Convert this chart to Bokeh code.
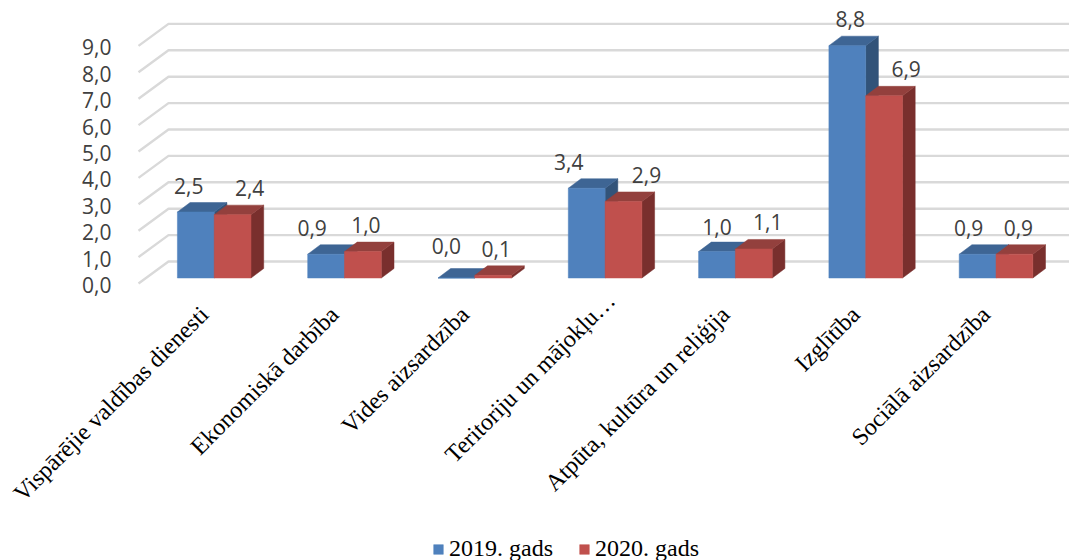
import math
from bokeh.plotting import figure
from bokeh.models import (ColumnDataSource, FixedTicker, Legend, LegendItem, LinearAxis, Range1d)
from bokeh.core.properties import value
from bokeh.embed import file_html
from bokeh.resources import INLINE

# ---- data ----
categories = ["Vispārējie valdības dienesti", "Ekonomiskā darbība", "Vides aizsardzība",
              "Teritoriju un mājokļu…", "Atpūta, kultūra un reliģija", "Izglītība",
              "Sociālā aizsardzība"]
series_2019 = [2.5, 0.9, 0.0, 3.4, 1.0, 8.8, 0.9]
series_2020 = [2.4, 1.0, 0.1, 2.9, 1.1, 6.9, 0.9]
labels_2019 = ["2,5", "0,9", "0,0", "3,4", "1,0", "8,8", "0,9"]
labels_2020 = ["2,4", "1,0", "0,1", "2,9", "1,1", "6,9", "0,9"]
y_ticks = [0, 1, 2, 3, 4, 5, 6, 7, 8, 9]
y_tick_labels = ["0,0", "1,0", "2,0", "3,0", "4,0", "5,0", "6,0", "7,0", "8,0", "9,0"]
series_names = ["2019. gads", "2020. gads"]

# ---- layout (pixels) ----
PX_X = 130.3          # one category
PX_Y = 26.4           # one value unit
W, H = 1069, 560
YAXIS_PAGE = 118
ZERO_PAGE = 283
BAR_W = 36.8
BAR_LIFT = 5.5        # bar front above the front plane
DEPTH_X, DEPTH_Y = 12.7, 9.5
WALL_X, WALL_Y = 30.0, 22.0
WALL_LEFT_PAGE, WALL_RIGHT_PAGE = 138.0, 1060.0
CENTER0_PAGE = 213.7
label_shift = [10, 10, 10, -6, 10, 10, 10]
RAISED_LABEL = 3      # the truncated label sits higher than the rest
RAISED_BY = 14
YLABEL_SHIFT = 1.5
nudge_2019 = [-7, -14, -10, -18, 0, 3, -9]
nudge_2020 = [17, 3, 3, 23, 14, 22, 4]
nudge_y_2019 = [0, 0, -6, 0, 2, 0, 0]
nudge_y_2020 = [0, 0, 0, 0, 0, 0, 0]
ABOVE = 26.5

dx = lambda px: px / PX_X
dy = lambda px: px / PX_Y
x_page = lambda px: (px - CENTER0_PAGE) / PX_X

FONT = "Open Sans"
SERIF = "Liberation Serif"
TXT = "#404040"
GRID = "#D9D9D9"
C = [dict(front="#4F81BD", top="#3E6594", side="#325379"),
     dict(front="#C0504D", top="#93403D", side="#792F2D")]

p = figure(width=W, height=H, output_backend="svg", toolbar_location=None,
           x_range=Range1d(x_page(0), x_page(W)),
           y_range=Range1d((ZERO_PAGE - H) / PX_Y, ZERO_PAGE / PX_Y),
           min_border_left=0, min_border_right=0, min_border_top=0,
           min_border_bottom=0)
p.outline_line_color = None
p.background_fill_color = None
p.border_fill_color = "white"
p.grid.visible = False

# walls
wall_xs, wall_ys = [], []
x_l, x_r = x_page(WALL_LEFT_PAGE), x_page(WALL_RIGHT_PAGE)
for t in y_ticks:
    wall_xs.append([x_l, x_l + dx(WALL_X), x_r + dx(WALL_X)])
    wall_ys.append([t, t + dy(WALL_Y), t + dy(WALL_Y)])
p.multi_line(wall_xs, wall_ys, line_color=GRID, line_width=2.4)

# bars
fronts = []
lift = dy(BAR_LIFT)
ddx, ddy, bw = dx(DEPTH_X), dy(DEPTH_Y), dx(BAR_W)
for i in range(len(categories)):
    for s, vals in enumerate((series_2019, series_2020)):
        v = vals[i]
        l = i - bw if s == 0 else i
        r = l + bw
        c = C[s]
        p.patch([r, r + ddx, r + ddx, r], [lift, lift + ddy, lift + v + ddy, lift + v],
                fill_color=c["side"], line_color=c["side"], line_width=0.5)
        p.patch([l, r, r + ddx, l + ddx], [lift + v, lift + v, lift + v + ddy, lift + v + ddy],
                fill_color=c["top"], line_color=c["top"], line_width=0.5)
        q = p.quad(left=[l], right=[r], bottom=[lift], top=[lift + v],
                   fill_color=c["front"], line_color=c["front"], line_width=0.5)
        if i == 0:
            fronts.append(q)

# data labels
for s, (vals, labs, nudge, nudge_y) in enumerate(((series_2019, labels_2019, nudge_2019, nudge_y_2019),
                                                  (series_2020, labels_2020, nudge_2020, nudge_y_2020))):
    off = -bw / 2 if s == 0 else bw / 2
    src = ColumnDataSource(dict(x=[i + off for i in range(len(vals))],
                                y=[v + lift for v in vals], t=labs, n=nudge,
                                m=[n - ABOVE for n in nudge_y]))
    p.text(x="x", y="y", text="t", source=src, x_offset="n", y_offset="m",
           text_align="center", text_baseline="middle", text_color=TXT,
           text_font=value(FONT), text_font_size="21px")

# axes
ya = p.yaxis[0]
yt = [t - dy(YLABEL_SHIFT) for t in y_ticks]
ya.ticker = FixedTicker(ticks=yt)
ya.major_label_overrides = dict(zip(yt, y_tick_labels))
ya.fixed_location = x_page(YAXIS_PAGE)
ya.axis_line_color = None
ya.major_tick_line_color = None
ya.minor_tick_line_color = None
ya.major_label_text_font = FONT
ya.major_label_text_font_size = "21px"
ya.major_label_text_color = TXT
ya.major_label_standoff = 1


def style_x(axis, indices, location):
    ticks = [i - dx(label_shift[i]) for i in indices]
    axis.ticker = FixedTicker(ticks=ticks)
    axis.major_label_overrides = {t: categories[i] for t, i in zip(ticks, indices)}
    axis.fixed_location = location
    axis.axis_line_color = None
    axis.major_tick_line_color = None
    axis.minor_tick_line_color = None
    axis.major_label_orientation = math.pi / 4
    axis.major_label_text_font = SERIF
    axis.major_label_text_font_size = "24px"
    axis.major_label_text_color = "black"
    axis.major_label_standoff = 21


style_x(p.xaxis[0], [i for i in range(len(categories)) if i != RAISED_LABEL], 0)
raised = LinearAxis()
style_x(raised, [RAISED_LABEL], dy(RAISED_BY))
p.add_layout(raised, "below")

legend = Legend(items=[LegendItem(label=series_names[0], renderers=[fronts[0]]),
                       LegendItem(label=series_names[1], renderers=[fronts[1]])],
                orientation="horizontal", location=(432, -2),
                glyph_width=12, glyph_height=12, label_standoff=5, spacing=25,
                padding=0, margin=0, border_line_color=None, background_fill_alpha=0,
                label_text_font=SERIF, label_text_font_size="24px", label_text_color="black")
p.add_layout(legend, "center")

open("out.html", "w").write(file_html(p, INLINE))
